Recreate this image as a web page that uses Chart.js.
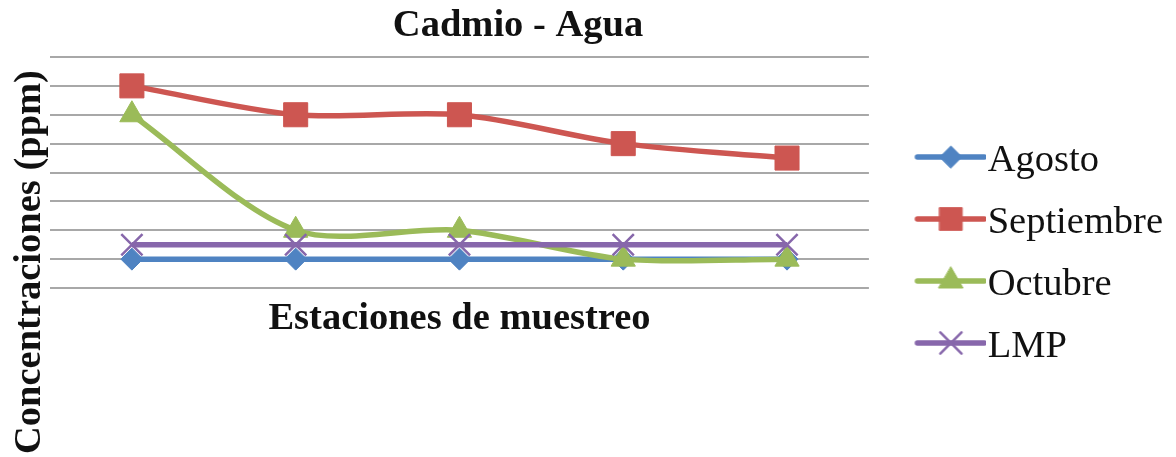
<!DOCTYPE html>
<html lang="es">
<head>
<meta charset="utf-8">
<title>Cadmio - Agua</title>
<script src="https://cdn.jsdelivr.net/npm/chart.js@4.4.1/dist/chart.umd.min.js"></script>
<style>
  html, body { margin: 0; padding: 0; background: #fff; }
  canvas { display: block; }
</style>
</head>
<body>
<canvas id="cadmioChart" width="1176" height="457"></canvas>
<script>
// Cd concentration in water per sampling station (ppm)
const stations = ['E-1', 'E-2', 'E-3', 'E-4', 'E-5'];
const agosto = [0.002, 0.002, 0.002, 0.002, 0.002];
const septiembre = [0.014, 0.012, 0.012, 0.010, 0.009];
const octubre = [0.012, 0.004, 0.004, 0.002, 0.002];
const lmp = [0.003, 0.003, 0.003, 0.003, 0.003];

const chartTitle = 'Cadmio - Agua';
const xTitle = 'Estaciones de muestreo';
const yTitle = 'Concentraciones (ppm)';

const SERIF = "'Liberation Serif', 'Times New Roman', serif";
const COLORS = { agosto: '#4f83c2', septiembre: '#cd5651', octubre: '#9bbb59', lmp: '#8767ab' };

// legend swatch: short line with the marker in the middle
function legendIcon(color, style, radius, borderWidth) {
  const c = document.createElement('canvas');
  c.width = 112; c.height = 44;
  const ctx = c.getContext('2d');
  const y = 18;
  ctx.strokeStyle = color;
  ctx.fillStyle = color;
  ctx.lineWidth = 5.5;
  ctx.lineCap = 'round';
  ctx.beginPath();
  ctx.moveTo(43, y);
  ctx.lineTo(110, y);
  ctx.stroke();
  ctx.lineWidth = borderWidth;
  Chart.helpers.drawPoint(ctx, { pointStyle: style, radius: radius, borderWidth: borderWidth, rotation: 0 }, 76.5, y);
  return c;
}

// chart title and rotated y title
const headings = {
  id: 'headings',
  afterDraw(chart) {
    const ctx = chart.ctx;
    ctx.save();
    ctx.fillStyle = '#111';
    ctx.font = 'bold 38.5px ' + SERIF;
    ctx.textAlign = 'center';
    ctx.textBaseline = 'middle';
    ctx.fillText(chartTitle, 518, 26);
    ctx.translate(30, 262);
    ctx.rotate(-Math.PI / 2);
    ctx.fillText(yTitle, 0, 0);
    ctx.restore();
  }
};

function series(label, data, color, style, radius, order, borderWidth) {
  return {
    label: label,
    data: data,
    borderColor: color,
    backgroundColor: color,
    borderWidth: 5.5,
    tension: 0.3,
    pointStyle: style,
    pointRadius: radius,
    pointBorderWidth: borderWidth,
    pointBackgroundColor: color,
    pointBorderColor: color,
    order: order,
    icon: legendIcon(color, style, style === 'rect' ? 16 : radius, borderWidth)
  };
}

const ctx = document.getElementById('cadmioChart').getContext('2d');
new Chart(ctx, {
  type: 'line',
  data: {
    labels: stations,
    datasets: [
      series('Agosto', agosto, COLORS.agosto, 'rectRot', 11, 4, 1),
      series('Septiembre', septiembre, COLORS.septiembre, 'rect', 17, 3, 1),
      series('Octubre', octubre, COLORS.octubre, 'triangle', 14, 2, 1),
      series('LMP', lmp, COLORS.lmp, 'crossRot', 15, 1, 2.5)
    ]
  },
  options: {
    responsive: false,
    animation: false,
    layout: { padding: { top: 57, left: 50, right: 3, bottom: 6 } },
    plugins: {
      tooltip: { enabled: false },
      legend: {
        position: 'right',
        align: 'center',
        maxWidth: 600,
        labels: {
          usePointStyle: true,
          pointStyleWidth: 76,
          padding: 23.5,
          color: '#111',
          font: { family: SERIF, size: 38.5 },
          sort: (a, b) => a.datasetIndex - b.datasetIndex,
          generateLabels: chart => Chart.defaults.plugins.legend.labels.generateLabels(chart).map(item => {
            item.pointStyle = chart.data.datasets[item.datasetIndex].icon;
            return item;
          })
        }
      }
    },
    scales: {
      x: {
        offset: true,
        grid: { display: false, drawTicks: false },
        border: { display: false },
        ticks: { display: false },
        title: {
          display: true,
          text: xTitle,
          color: '#111',
          font: { family: SERIF, size: 38.5, weight: 'bold' },
          padding: { top: 8, bottom: 108.8 }
        }
      },
      y: {
        min: 0,
        max: 0.016,
        ticks: { display: false, stepSize: 0.002 },
        grid: { color: '#a8a8a8', lineWidth: 2, drawTicks: false },
        border: { display: false }
      }
    }
  },
  plugins: [headings]
});
</script>
</body>
</html>
